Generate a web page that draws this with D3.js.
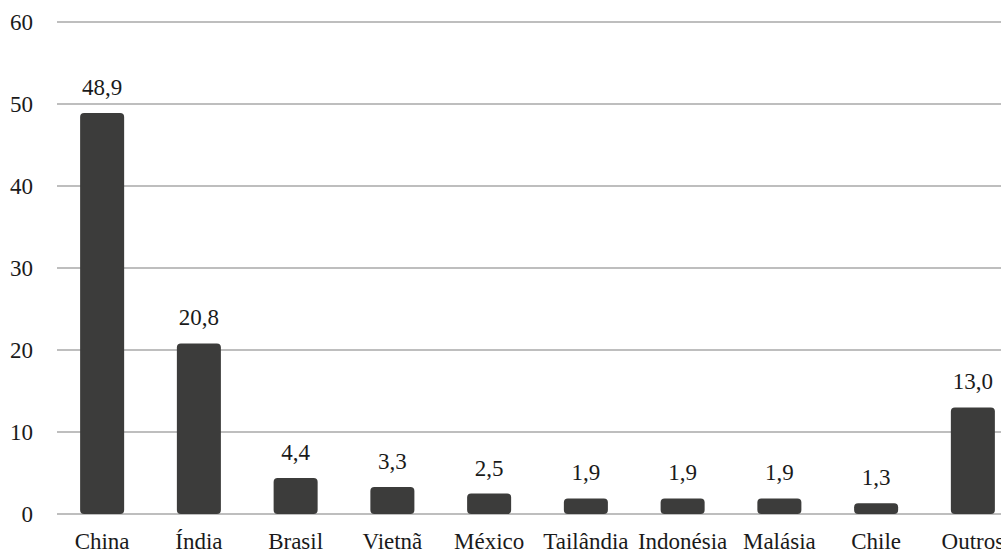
<!DOCTYPE html>
<html>
<head>
<meta charset="utf-8">
<script src="https://cdn.jsdelivr.net/npm/d3@7"></script>
<style>
  body { margin: 0; background: #fff; }
</style>
</head>
<body>
<div id="chart"></div>
<script>
const countries = ["China", "Índia", "Brasil", "Vietnã", "México", "Tailândia", "Indonésia", "Malásia", "Chile", "Outros"];
const shares = [48.9, 20.8, 4.4, 3.3, 2.5, 1.9, 1.9, 1.9, 1.3, 13.0];
const yTicks = [0, 10, 20, 30, 40, 50, 60];

const width = 1001, height = 560;

const svg = d3.select("#chart").append("svg")
  .attr("width", width)
  .attr("height", height);

// plot runs past the right edge, like the original
const x = d3.scaleBand()
  .domain(countries)
  .range([54, 1021])
  .paddingInner(0.545)
  .paddingOuter(0.27);

const y = d3.scaleLinear()
  .domain([0, 60])
  .range([514, 22]);

// gridlines
svg.selectAll("line")
  .data(yTicks)
  .enter().append("line")
  .attr("x1", 57)
  .attr("x2", width)
  .attr("y1", d => y(d))
  .attr("y2", d => y(d))
  .attr("stroke", "#a8a8a8")
  .attr("stroke-width", 1.5);

// bars
svg.selectAll("rect")
  .data(countries)
  .enter().append("rect")
  .attr("x", d => x(d))
  .attr("width", x.bandwidth())
  .attr("y", (d, i) => y(shares[i]))
  .attr("height", (d, i) => y(0) - y(shares[i]))
  .attr("rx", 4)
  .attr("ry", 4)
  .attr("fill", "#3c3c3b");

const fmt = v => v.toFixed(1).replace(".", ",");

// labels: place by measured width instead of text-anchor
function label(str, cx, yy, align) {
  const t = svg.append("text")
    .attr("font-family", "Liberation Serif")
    .attr("font-size", 23)
    .attr("fill", "#1a1a1a")
    .attr("y", yy)
    .text(str);
  const w = t.node().getComputedTextLength();
  t.attr("x", align === "end" ? cx - w : cx - w / 2);
}

yTicks.forEach(d => label(String(d), 33, y(d) + 8, "end"));
countries.forEach((d, i) => {
  const cx = x(d) + x.bandwidth() / 2;
  label(fmt(shares[i]), cx, y(shares[i]) - 18, "middle");
  label(d, cx, 549, "middle");
});
</script>
</body>
</html>
